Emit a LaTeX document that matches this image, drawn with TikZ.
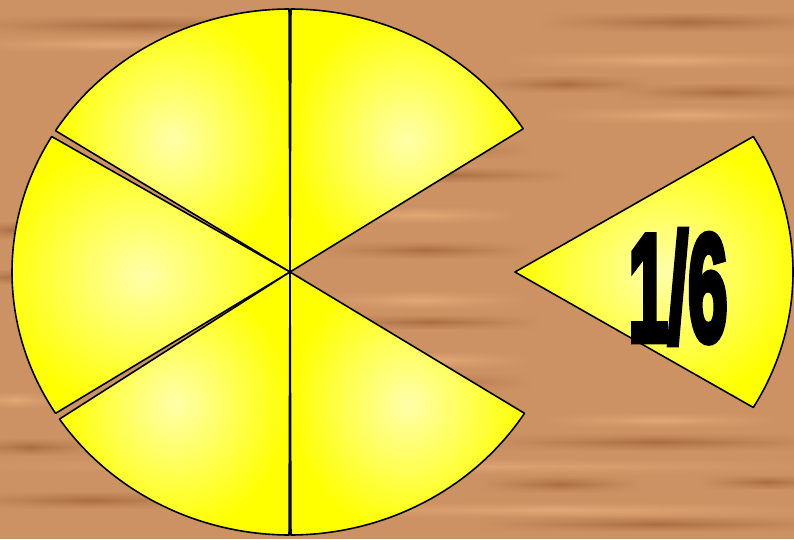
\documentclass[tikz,border=0pt]{standalone}
\usepackage{fontspec}
\newfontfamily\fracfont[FakeBold=5]{Liberation Sans Bold}
\usepackage{tikz}
\usetikzlibrary{fadings}
\definecolor{wood}{RGB}{204,146,100}
\definecolor{wooddark}{RGB}{170,110,66}
\definecolor{woodlight}{RGB}{226,168,118}
\definecolor{pielight}{RGB}{255,255,170}
\definecolor{pieyellow}{RGB}{255,255,0}
\tikzfading[name=fade sides, left color=transparent!100, right color=transparent!100, middle color=transparent!0]

\begin{document}
\begin{tikzpicture}[x=1pt, y=1pt,
    slice/.style={draw=black, line width=1.6pt, line join=round, inner color=pielight, outer color=pieyellow}]
    \useasboundingbox (0,0) rectangle (794,539);
    % Holzuntergrund
    \fill[wood] (0,0) rectangle (794,539);
    \foreach \y/\xa/\xb/\h/\col in {25/-40/320/10/wooddark, 22/540/834/10/wooddark, 44/-40/260/8/woodlight,
        60/500/834/9/woodlight, 84/480/650/9/wooddark, 92/620/834/9/wooddark, 115/540/834/9/woodlight,
        150/300/530/9/wooddark, 175/320/570/8/wooddark, 215/320/520/9/woodlight, 230/-30/60/9/wooddark,
        250/320/530/9/wooddark, 277/-30/60/8/wooddark, 300/310/530/10/woodlight, 322/320/540/8/wooddark,
        360/340/530/9/woodlight, 382/290/530/9/wooddark, 400/-30/60/9/woodlight, 420/540/780/8/woodlight,
        442/480/834/9/wooddark, 447/-40/100/9/wooddark, 466/-40/834/8/woodlight, 484/480/640/9/wooddark,
        482/700/834/8/wooddark, 500/-40/220/9/wooddark, 510/280/834/8/woodlight, 524/480/834/8/wooddark}
        \shade[top color=wood, bottom color=wood, middle color=\col, path fading=fade sides]
            (\xa,{539-\y-\h}) rectangle (\xb,{539-\y+\h});
    \coordinate (c) at (290,267);
    \coordinate (c2) at (515,267);
    % fuenf Stuecke der Torte
    \foreach \a/\b in {33/89.8, 90.2/147.5, 149/212.5, 214/269.8, 270.2/327.5}
        \draw[slice] (c) -- +(\a:278pt and 263pt)
            arc[start angle=\a, end angle=\b, x radius=278pt, y radius=263pt] -- cycle;
    % das herausgenommene Stueck
    \draw[slice] (c2) -- +(-31:278pt and 263pt)
        arc[start angle=-31, end angle=31, x radius=278pt, y radius=263pt] -- cycle;
    \node (frac) at (678,252) {\fontsize{152}{152}\fracfont\scalebox{0.47}[1]{1/6}};
\end{tikzpicture}
\end{document}
